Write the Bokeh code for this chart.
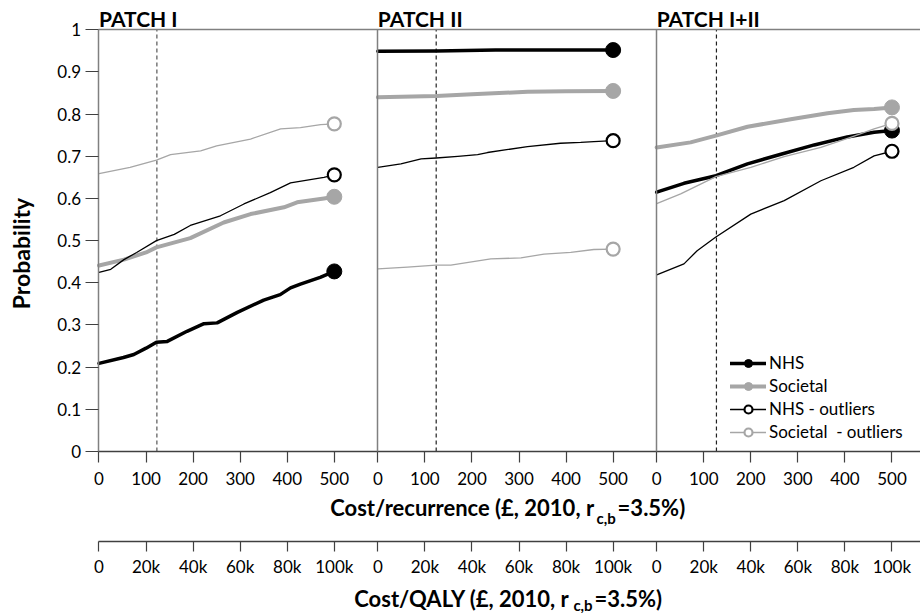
import math
from bokeh.plotting import figure
from bokeh.models import (Range1d, LinearAxis, FixedTicker, Label, Legend,
                          LegendItem, NumeralTickFormatter)
from bokeh.embed import file_html
from bokeh.resources import INLINE

FONT = "Lato"

# ---------------- data ----------------
panel_titles = ["PATCH I", "PATCH II", "PATCH I+II"]
wtp_ticks = [0, 100, 200, 300, 400, 500]
wtp_labels = ["0", "100", "200", "300", "400", "500"]
qaly_labels = ["0", "20k", "40k", "60k", "80k", "100k"]
y_ticks = [0, 0.1, 0.2, 0.3, 0.4, 0.5, 0.6, 0.7, 0.8, 0.9, 1.0]
thresholds = [123, 124, 127]
series_names = ["NHS", "Societal", "NHS - outliers", "Societal  - outliers"]

# PATCH I
p1_nhs_x = [0, 52, 74, 100, 122, 145, 187, 223, 251, 294, 350, 385, 407, 428, 470, 500]
p1_nhs_y = [0.209, 0.223, 0.230, 0.245, 0.259, 0.261, 0.285, 0.303, 0.305, 0.330, 0.359,
            0.372, 0.388, 0.397, 0.413, 0.427]
p1_soc_x = [0, 53, 100, 122, 194, 265, 322, 393, 421, 478, 500]
p1_soc_y = [0.441, 0.455, 0.472, 0.484, 0.506, 0.543, 0.563, 0.579, 0.591, 0.600, 0.604]
p1_nhso_x = [0, 25, 53, 80, 122, 160, 194, 258, 308, 364, 407, 478, 500]
p1_nhso_y = [0.425, 0.432, 0.455, 0.472, 0.500, 0.515, 0.536, 0.559, 0.587, 0.614, 0.637,
             0.650, 0.656]
p1_soco_x = [0, 66, 122, 152, 216, 250, 322, 386, 428, 471, 500]
p1_soco_y = [0.659, 0.674, 0.691, 0.704, 0.713, 0.725, 0.741, 0.765, 0.768, 0.775, 0.777]

# PATCH II
p2_nhs_x = [0, 125, 250, 350, 450, 500]
p2_nhs_y = [0.949, 0.950, 0.952, 0.952, 0.952, 0.952]
p2_soc_x = [0, 124, 200, 318, 400, 500]
p2_soc_y = [0.840, 0.843, 0.847, 0.853, 0.854, 0.855]
p2_nhso_x = [0, 49, 92, 124, 170, 212, 233, 318, 388, 431, 459, 500]
p2_nhso_y = [0.674, 0.682, 0.694, 0.696, 0.700, 0.704, 0.709, 0.723, 0.731, 0.733, 0.735, 0.737]
p2_soco_x = [0, 63, 123, 155, 240, 304, 353, 410, 459, 500]
p2_soco_y = [0.433, 0.437, 0.442, 0.442, 0.457, 0.459, 0.468, 0.472, 0.479, 0.480]

# PATCH I+II
p3_nhs_x = [0, 58, 126, 193, 264, 335, 405, 462, 500]
p3_nhs_y = [0.615, 0.636, 0.654, 0.682, 0.705, 0.727, 0.746, 0.757, 0.761]
p3_soc_x = [0, 72, 126, 193, 285, 363, 419, 462, 500]
p3_soc_y = [0.721, 0.733, 0.749, 0.770, 0.788, 0.802, 0.810, 0.812, 0.816]
p3_nhso_x = [0, 58, 86, 125, 200, 271, 349, 419, 462, 500]
p3_nhso_y = [0.419, 0.445, 0.476, 0.508, 0.563, 0.595, 0.642, 0.674, 0.701, 0.712]
p3_soco_x = [0, 51, 126, 200, 271, 349, 412, 462, 500]
p3_soco_y = [0.588, 0.611, 0.652, 0.674, 0.699, 0.721, 0.745, 0.765, 0.778]

panels = [
    [(p1_nhs_x, p1_nhs_y), (p1_soc_x, p1_soc_y), (p1_nhso_x, p1_nhso_y), (p1_soco_x, p1_soco_y)],
    [(p2_nhs_x, p2_nhs_y), (p2_soc_x, p2_soc_y), (p2_nhso_x, p2_nhso_y), (p2_soco_x, p2_soco_y)],
    [(p3_nhs_x, p3_nhs_y), (p3_soc_x, p3_soc_y), (p3_nhso_x, p3_nhso_y), (p3_soco_x, p3_soco_y)],
]

# ---------------- layout / style ----------------
OFF = 592.5            # data offset between panels on the shared x scale
X0, X1 = -209.3, 1745.6
Y0, Y1 = -0.3842, 1.0695
QALY_PER_UNIT = 200    # 500 per recurrence <-> 100k per QALY
QALY_AXIS_Y = -0.2134
GRAY = "#a6a6a6"
AXC = "#404040"
PANEL_LINE = "#808080"

styles = [
    dict(color="black", width=3.5, fill="black", size=15),
    dict(color=GRAY, width=4, fill=GRAY, size=15),
    dict(color="black", width=1.3, fill="white", size=13),
    dict(color=GRAY, width=1.3, fill="white", size=13),
]

p = figure(width=920, height=613, x_range=Range1d(X0, X1), y_range=Range1d(Y0, Y1),
           output_backend="svg", toolbar_location=None,
           x_axis_location=None, y_axis_location=None,
           min_border=0, min_border_left=0, min_border_right=0,
           min_border_top=0, min_border_bottom=0)
p.extra_x_ranges = {"qaly": Range1d(X0 * QALY_PER_UNIT, X1 * QALY_PER_UNIT)}
p.grid.grid_line_color = None
p.outline_line_color = None
p.background_fill_color = "white"
p.border_fill_color = "white"


def style_labels(ax):
    ax.major_label_text_font = FONT
    ax.major_label_text_font_size = "17px"
    ax.major_label_text_color = "black"
    ax.minor_tick_line_color = None
    ax.major_tick_in = 0


# y axis (probability)
ya = LinearAxis(fixed_location=0, bounds=(0, 1), ticker=FixedTicker(ticks=y_ticks),
                formatter=NumeralTickFormatter(format="0.[0]"))
style_labels(ya)
ya.axis_line_color = PANEL_LINE
ya.axis_line_width = 1.5
ya.major_tick_out = 13
ya.major_tick_line_color = AXC
ya.major_tick_line_width = 1.2
ya.major_label_standoff = 5
p.add_layout(ya, "left")

p.add_layout(Label(x=-164.7, y=0.4695, text="Probability", angle=math.pi / 2,
                   text_font=FONT, text_font_style="bold", text_font_size="23px",
                   text_align="center", text_baseline="middle", text_color="black"))

# panel separator lines
for k in (1, 2):
    sep = LinearAxis(fixed_location=k * OFF, bounds=(0, 1), ticker=FixedTicker(ticks=[]))
    sep.axis_line_color = PANEL_LINE
    sep.axis_line_width = 1.5
    sep.major_tick_line_color = None
    sep.minor_tick_line_color = None
    sep.major_label_text_font_size = "0px"
    p.add_layout(sep, "left")

# top frame line
top = LinearAxis(fixed_location=1, bounds=(0, X1), ticker=FixedTicker(ticks=[]))
top.axis_line_color = PANEL_LINE
top.axis_line_width = 1.5
top.major_tick_line_color = None
top.minor_tick_line_color = None
top.major_label_text_font_size = "0px"
p.add_layout(top, "above")

# x axis (cost / recurrence)
ticks = [k * OFF + t for k in range(3) for t in wtp_ticks]
overrides = {k * OFF + t: lab for k in range(3) for t, lab in zip(wtp_ticks, wtp_labels)}
xa = LinearAxis(fixed_location=0, bounds=(0, X1), ticker=FixedTicker(ticks=ticks),
                major_label_overrides=overrides)
style_labels(xa)
xa.axis_line_color = AXC
xa.axis_line_width = 1.5
xa.major_tick_out = 11
xa.major_tick_line_color = AXC
xa.major_tick_line_width = 1.2
xa.major_label_standoff = 10
p.add_layout(xa, "below")

# second x axis (cost / QALY)
qticks = [(k * OFF + t) * QALY_PER_UNIT for k in range(3) for t in wtp_ticks]
qover = {(k * OFF + t) * QALY_PER_UNIT: lab for k in range(3)
         for t, lab in zip(wtp_ticks, qaly_labels)}
qa = LinearAxis(x_range_name="qaly", fixed_location=QALY_AXIS_Y,
                bounds=(-2 * QALY_PER_UNIT, X1 * QALY_PER_UNIT),
                ticker=FixedTicker(ticks=qticks), major_label_overrides=qover)
style_labels(qa)
qa.axis_line_color = AXC
qa.axis_line_width = 1.5
qa.major_tick_out = 10
qa.major_tick_line_color = AXC
qa.major_tick_line_width = 1.2
qa.major_label_standoff = 5
p.add_layout(qa, "below")

# willingness-to-pay threshold lines (dashed)
thr_x = [k * OFF + t for k, t in enumerate(thresholds)]
thr_colors = ["#555555", "#202020", "#202020"]
p.segment(x0=thr_x, y0=[0] * 3, x1=thr_x, y1=[1] * 3, line_color=thr_colors,
          line_width=1.2, line_dash="4 3")

# series
legend_renderers = [[] for _ in series_names]
for k, panel in enumerate(panels):
    for s, (xs, ys) in enumerate(panel):
        st = styles[s]
        xx = [k * OFF + v for v in xs]
        lr = p.line(xx, ys, line_color=st["color"], line_width=st["width"],
                    line_join="round", line_cap="round")
        sr = p.scatter([xx[-1]], [ys[-1]], size=st["size"], fill_color=st["fill"],
                       line_color=st["color"], line_width=2.2 if s >= 2 else 1)
        if k == 0:
            legend_renderers[s] = [lr, sr]

legend = Legend(items=[LegendItem(label=n, renderers=r) for n, r in zip(series_names, legend_renderers)],
                location=(730, 171), glyph_width=36, glyph_height=20, label_height=20,
                spacing=2, padding=0, margin=0, label_standoff=3,
                border_line_color=None, background_fill_alpha=0,
                label_text_font=FONT, label_text_font_size="17px", label_text_color="black")
p.add_layout(legend)

# panel titles
for k, t in enumerate(panel_titles):
    p.add_layout(Label(x=k * OFF, y=1.0268, text=t, text_font=FONT, text_font_style="bold",
                       text_font_size="21px", text_baseline="middle", text_align="left",
                       text_color="black"))


# axis titles with subscript
def title(y, ysub, part_a, part_c, xa_, xs_, xc_):
    p.add_layout(Label(x=xa_, y=y, text=part_a, text_font=FONT, text_font_style="bold",
                       text_font_size="22px", text_baseline="middle", text_align="right",
                       text_color="black"))
    p.add_layout(Label(x=xs_, y=ysub, text="c,b", text_font=FONT, text_font_style="bold",
                       text_font_size="15px", text_baseline="middle", text_align="left",
                       text_color="black"))
    p.add_layout(Label(x=xc_, y=y, text=part_c, text_font=FONT, text_font_style="bold",
                       text_font_size="22px", text_baseline="middle", text_align="left",
                       text_color="black"))


title(-0.134, -0.157, "Cost/recurrence (£, 2010, r", "=3.5%)", 1052, 1057, 1102)
title(-0.3498, -0.3635, "Cost/QALY (£, 2010, r", " =3.5%)", 1000, 1008, 1053)

open("out.html", "w").write(file_html(p, INLINE))
